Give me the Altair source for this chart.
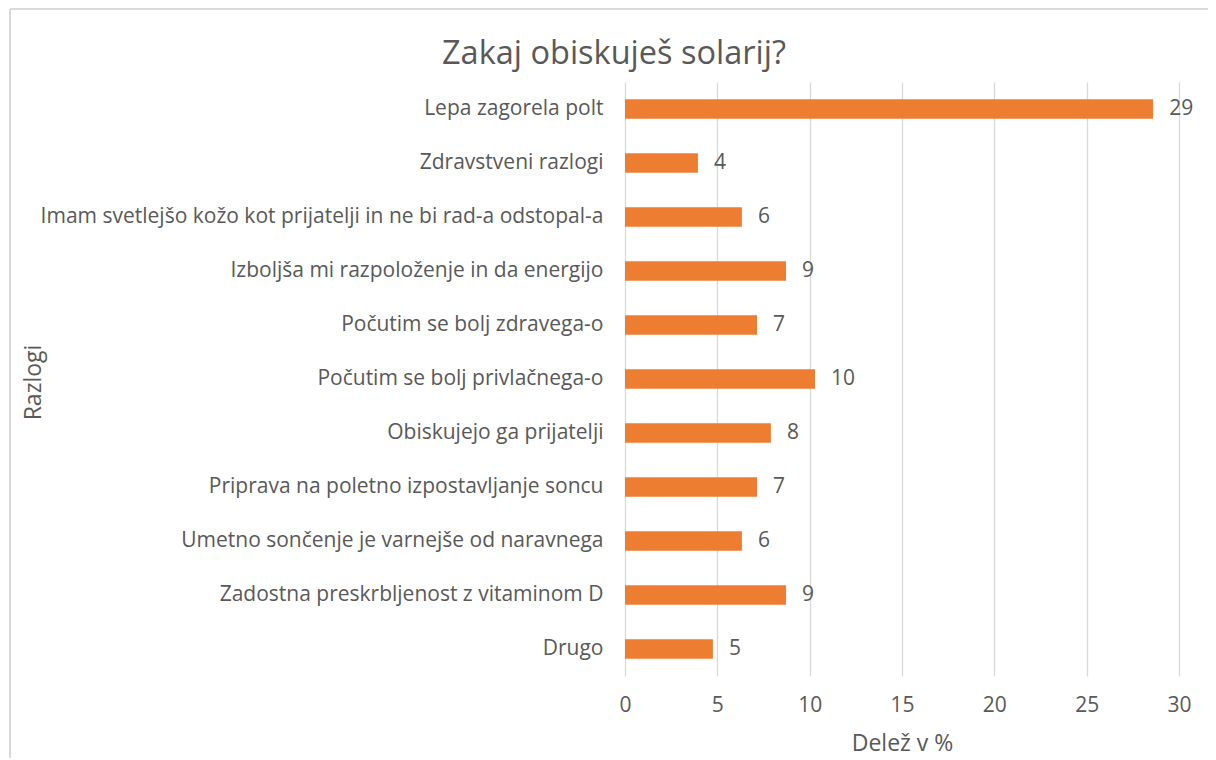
import altair as alt
import pandas as pd

reasons = [
    "Lepa zagorela polt",
    "Zdravstveni razlogi",
    "Imam svetlejšo kožo kot prijatelji in ne bi rad-a odstopal-a",
    "Izboljša mi razpoloženje in da energijo ",
    "Počutim se bolj zdravega-o",
    "Počutim se bolj privlačnega-o",
    "Obiskujejo ga prijatelji ",
    "Priprava na poletno izpostavljanje soncu ",
    "Umetno sončenje je varnejše od naravnega ",
    "Zadostna preskrbljenost z vitaminom D",
    "Drugo",
]
shares = [28.6, 3.95, 6.33, 8.72, 7.15, 10.29, 7.9, 7.15, 6.33, 8.72, 4.76]

df = pd.DataFrame({"reason": reasons, "share": shares})

FONT = "Open Sans"
TXT = "#595959"
ORANGE = "#ED7D31"
GRID = "#D9D9D9"
LBL = 21

x_enc = alt.X(
    "share:Q",
    scale=alt.Scale(domain=[0, 30], nice=False, zero=True),
    axis=alt.Axis(
        values=[0, 5, 10, 15, 20, 25, 30],
        title="Delež v %",
        titleFont=FONT, titleFontSize=23, titleFontWeight="normal", titleColor=TXT,
        titlePadding=17,
        labelFont=FONT, labelFontSize=LBL, labelColor=TXT, labelPadding=18,
        labelFlush=False,
        grid=True, gridColor=GRID, gridWidth=1.3,
        domain=False, ticks=False,
    ),
)
y_enc = alt.Y(
    "reason:N",
    sort=reasons,
    scale=alt.Scale(paddingInner=0.64, paddingOuter=0.32),
    axis=alt.Axis(
        title="Razlogi",
        titleFont=FONT, titleFontSize=23, titleFontWeight="normal", titleColor=TXT,
        titleX=-592, titleY=300, titleAngle=-90, titleAlign="center", titleBaseline="middle",
        labelFont=FONT, labelFontSize=LBL, labelColor=TXT, labelPadding=22,
        labelLimit=700,
        domain=False, ticks=False, grid=False,
    ),
)

bars = alt.Chart(df).mark_bar(color=ORANGE).encode(x=x_enc, y=y_enc)
labels = alt.Chart(df).mark_text(
    align="left", baseline="middle", dx=16, font=FONT, fontSize=LBL, color=TXT
).encode(
    x=alt.X("share:Q"),
    y=alt.Y("reason:N", sort=reasons),
    text=alt.Text("share:Q", format=".0f"),
)

border_left = alt.Chart(df).mark_rule(color=GRID, strokeWidth=2).encode(
    x=alt.value(-615), y=alt.value(-73), y2=alt.value(690)
)
border_top = alt.Chart(df).mark_rule(color=GRID, strokeWidth=2).encode(
    x=alt.value(-615), x2=alt.value(600), y=alt.value(-73)
)

chart = (
    alt.layer(border_left, border_top, bars, labels)
    .properties(
        width=554,
        height=594,
        title=alt.TitleParams(
            "Zakaj obiskuješ solarij?",
            font=FONT, fontSize=32.5, fontWeight="normal", color=TXT,
            anchor="middle", frame="group", dx=-288, offset=-62,
        ),
        autosize=alt.AutoSizeParams(type="none"),
        padding={"left": 617, "top": 74, "right": 29, "bottom": 82},
    )
    .configure(background="white")
    .configure_view(strokeWidth=0, stroke="transparent")
)

chart.save("out.html", embed_options={"renderer": "svg", "actions": False})
